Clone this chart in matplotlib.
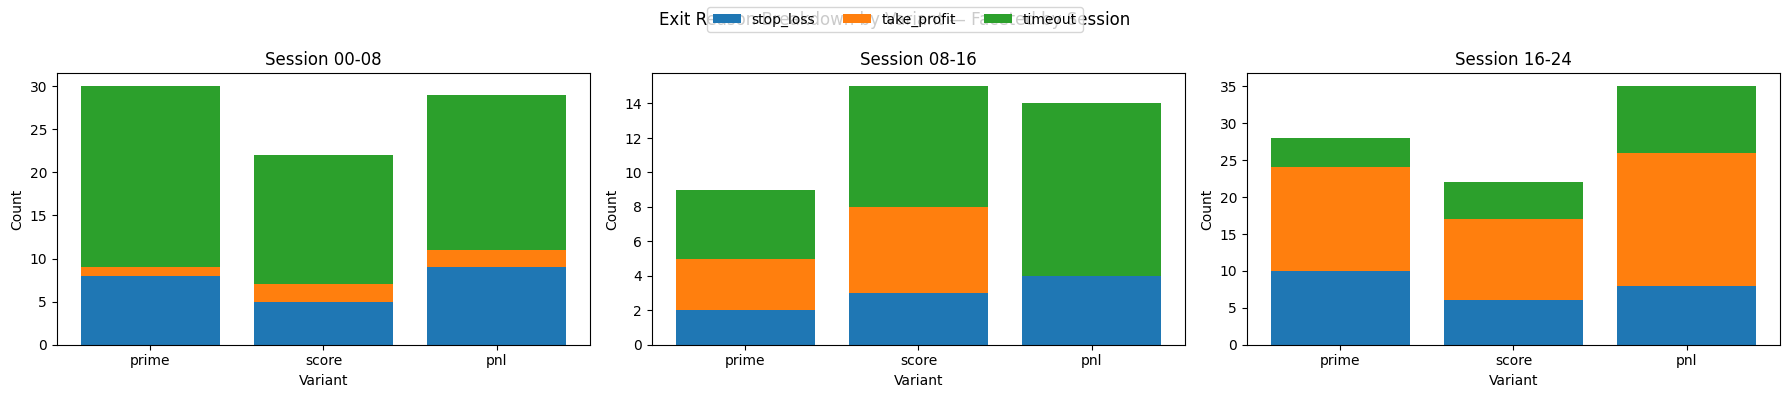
import numpy as np
import matplotlib.pyplot as plt

sessions = ['00-08', '08-16', '16-24']
variants = ['prime', 'score', 'pnl']
reasons  = ['stop_loss', 'take_profit', 'timeout']

# counts per session: rows = variants, one list per reason
stop_loss   = [[8, 5, 9], [2, 3, 4], [10, 6, 8]]
take_profit = [[1, 2, 2], [3, 5, 0], [14, 11, 18]]
timeout     = [[21, 15, 18], [4, 7, 10], [4, 5, 9]]

colors = ['#1f77b4', '#ff7f0e', '#2ca02c']

fig, axes = plt.subplots(1, 3, figsize=(18, 4), dpi=100)

for i, (ax, sess) in enumerate(zip(axes, sessions)):
    bottom = np.zeros(len(variants))
    for name, vals, c in zip(reasons, [stop_loss, take_profit, timeout], colors):
        v = np.array(vals[i])
        ax.bar(variants, v, bottom=bottom, color=c, label=name)
        bottom += v
    ax.set_title(f'Session {sess}')
    ax.set_xlabel('Variant')
    ax.set_ylabel('Count')

handles, labels = axes[0].get_legend_handles_labels()
fig.suptitle('Exit Reason Breakdown by Variant — Faceted by Session')
fig.legend(handles, labels, loc='upper center', ncol=3)
plt.tight_layout()
plt.savefig('out.png', dpi=100, bbox_inches='tight')
